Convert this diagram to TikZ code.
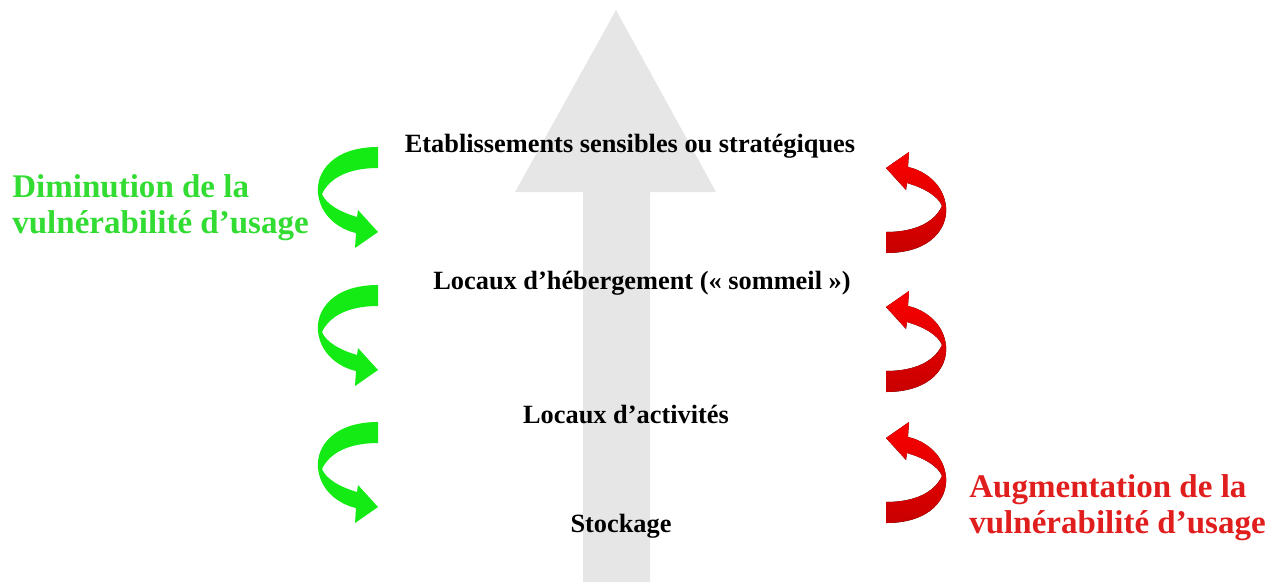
\documentclass[tikz,border=0pt]{standalone}
\usepackage{fontspec}
\setmainfont{Liberation Serif}

\definecolor{lightgrey}{RGB}{230,230,230}
\definecolor{greenarrow}{RGB}{20,235,20}
\definecolor{greentext}{RGB}{50,220,50}
\definecolor{redarrow}{RGB}{250,0,0}
\definecolor{darkred}{RGB}{200,0,0}
\definecolor{redtext}{RGB}{225,30,30}

\tikzset{
  level/.style={font=\bfseries\fontsize{15}{17}\selectfont, anchor=base},
  sidelabel/.style={font=\bfseries\fontsize{18.8}{20}\selectfont, align=left, anchor=base west, inner sep=0pt},
  bendarrow/.pic={
    \fill[pic actions] (0,0) .. controls (-45,0) and (-62,25) .. (-60,46)
      .. controls (-58,68) and (-40,82) .. (-22,86)
      -- (-23,101) -- (0,85) -- (-20,63) -- (-21,70)
      .. controls (-38,65) and (-52,57) .. (-56,47)
      .. controls (-48,30) and (-28,21) .. (0,21) -- cycle;
  },
}

\begin{document}
\begin{tikzpicture}[x=0.02cm, y=-0.02cm]
  \useasboundingbox (0,0) rectangle (1270,582);

  % big upward arrow behind the levels
  \fill[lightgrey] (583,582) -- (583,192) -- (515,192) -- (616,10)
    -- (716,192) -- (650,192) -- (650,582) -- cycle;

  \node[level] (etab) at (630,152) {Etablissements sensibles ou stratégiques};
  \node[level] (heberg) at (642,289) {Locaux d’hébergement (« sommeil »)};
  \node[level] (activ) at (626,423) {Locaux d’activités};
  \node[level] (stock) at (621,532) {Stockage};

  % going down: less vulnerable
  \foreach \y in {147,285,422}
    \pic[fill=greenarrow] at (378,\y) {bendarrow};
  % going up: more vulnerable
  \foreach \y in {253,392,523}
    \pic[rotate=180, top color=redarrow, bottom color=darkred] at (886,\y) {bendarrow};

  \node[sidelabel, text=greentext] (dimin) at (12,233)
    {Diminution de la\\vulnérabilité d’usage};
  \node[sidelabel, text=redtext] (augm) at (969,533)
    {Augmentation de la\\vulnérabilité d’usage};
\end{tikzpicture}
\end{document}
